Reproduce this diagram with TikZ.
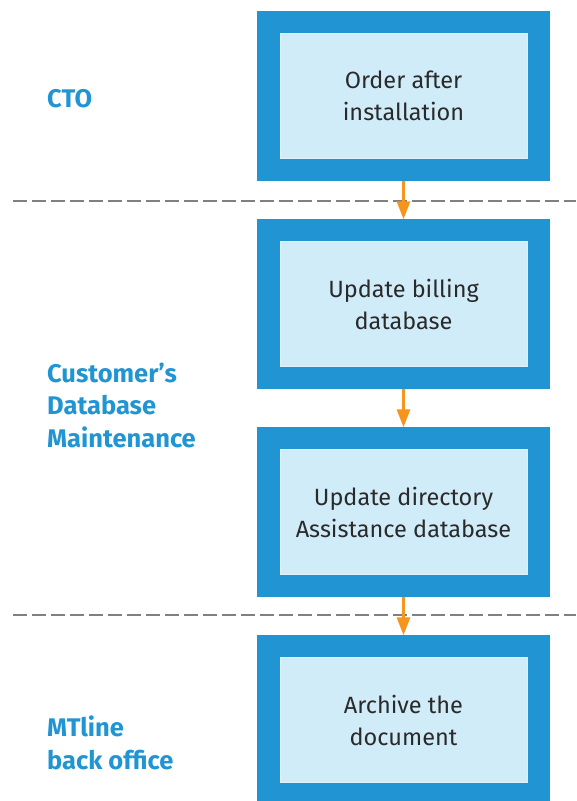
\documentclass[tikz,border=0pt]{standalone}
\usepackage{fontspec}
\setmainfont{Fira Sans}
\usetikzlibrary{arrows.meta}
\definecolor{boxblue}{HTML}{2195D3}
\definecolor{boxfill}{HTML}{D1ECF9}
\definecolor{flow}{HTML}{F7941D}
\definecolor{divider}{HTML}{808080}
\definecolor{ink}{HTML}{2A2A2A}
\tikzset{
  outerbox/.style={fill=boxblue, draw=none, minimum width=293pt, minimum height=170pt, inner sep=0pt},
  innerbox/.style={fill=boxfill, draw=boxfill!70!white, line width=0.6pt, minimum width=247pt, minimum height=125pt,
    inner sep=0pt, align=center, text=ink, font=\fontsize{23.5}{32}\selectfont},
  lane/.style={anchor=west, align=left, text=boxblue, font=\bfseries\fontsize{25.5}{32.5}\selectfont, inner sep=0pt},
  divline/.style={draw=divider, line width=1.8pt, dash pattern=on 14pt off 5pt},
  flowarrow/.style={draw=flow, line width=3pt, -{Triangle[width=13pt,length=18pt]}, shorten >=-0.5pt}
}
\begin{document}
\begin{tikzpicture}[x=1pt,y=-1pt]
  \useasboundingbox (0,0) rectangle (576,801);
  % process steps
  \node[outerbox] (b1) at (403.5,96) {};
  \node[innerbox] (t1) at (b1.center) {Order after\\installation};
  \node[outerbox] (b2) at (403.5,304) {};
  \node[innerbox] (t2) at (b2.center) {Update billing\\database};
  \node[outerbox] (b3) at (403.5,512) {};
  \node[innerbox] (t3) at (b3.center) {Update directory\\Assistance database};
  \node[outerbox] (b4) at (403.5,720) {};
  \node[innerbox] (t4) at (b4.center) {Archive the\\document};
  % lane dividers
  \coordinate (d1a) at (13,201);
  \coordinate (d1b) at (576,201);
  \coordinate (d2a) at (13,615);
  \coordinate (d2b) at (576,615);
  \draw[divline] (d1a) -- (d1b);
  \draw[divline] (d2a) -- (d2b);
  % lane labels
  \node[lane] (l1) at (47,99) {CTO};
  \node[lane] (l2) at (47,405) {Customer’s\\Database\\Maintenance};
  \node[lane] (l3) at (47,743) {MTline\\back office};
  % flow
  \draw[flowarrow] (b1.south) -- (b2.north);
  \draw[flowarrow] (b2.south) -- (b3.north);
  \draw[flowarrow] (b3.south) -- (b4.north);
\end{tikzpicture}
\end{document}
